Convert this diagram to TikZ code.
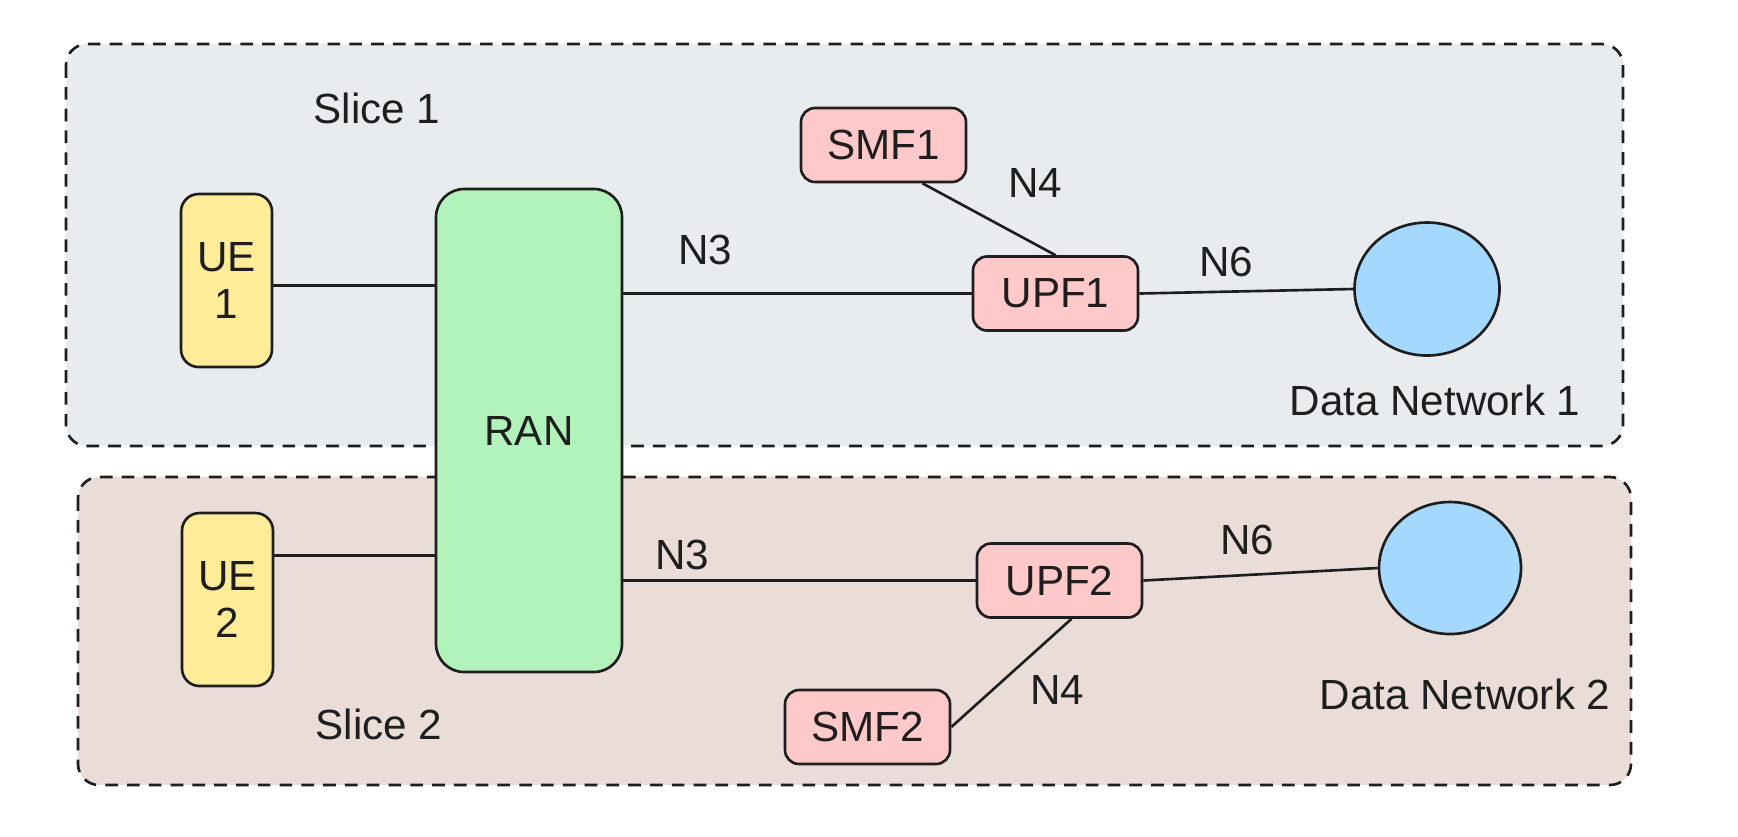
\documentclass[tikz,border=0pt]{standalone}
\usepackage{fontspec}
\setmainfont{Liberation Sans}
\usetikzlibrary{shapes.geometric}
\definecolor{ink}{HTML}{1E1E1E}
\definecolor{sliceonefill}{HTML}{E9ECEF}
\definecolor{slicetwofill}{HTML}{EADDD8}
\definecolor{uefill}{HTML}{FFEC99}
\definecolor{ranfill}{HTML}{B2F2BB}
\definecolor{nffill}{HTML}{FFC9C9}
\definecolor{dnfill}{HTML}{A5D8FF}
\begin{document}
\begin{tikzpicture}[
    every node/.style={font=\fontsize{12}{14}\selectfont, text=ink},
    slicebox/.style={draw=ink, fill=#1, line width=0.75pt, dash pattern=on 3.6pt off 2.6pt, rounded corners=6pt},
    uebox/.style={draw=ink, fill=uefill, line width=0.75pt, rounded corners=5pt, minimum width=0.91cm, minimum height=1.73cm, inner sep=0pt, align=center},
    ranbox/.style={draw=ink, fill=ranfill, line width=0.75pt, rounded corners=8pt, minimum width=1.86cm, minimum height=4.83cm, inner sep=0pt},
    nfbox/.style={draw=ink, fill=nffill, line width=0.75pt, rounded corners=4pt, minimum width=1.65cm, minimum height=0.74cm, inner sep=0pt},
    dnet/.style={draw=ink, fill=dnfill, line width=0.75pt, ellipse, inner sep=0pt},
    link/.style={draw=ink, line width=0.75pt}
  ]
   \useasboundingbox (0,0) rectangle (17.38,-8.36);
   \fill[white] (0,0) rectangle (17.38,-8.36);

   % the two slices
   \draw[slicebox=sliceonefill] (0.66,-0.44) rectangle (16.23,-4.46);
   \draw[slicebox=slicetwofill] (0.78,-4.77) rectangle (16.31,-7.85);
   \node (slice1) at (3.77,-1.08) {Slice 1};
   \node (slice2) at (3.79,-7.24) {Slice 2};

   \node[uebox] (ue1) at (2.265,-2.805) {UE\\[-0.5pt]1};
   \node[uebox] (ue2) at (2.275,-5.995) {UE\\[-0.5pt]2};
   \node[ranbox] (ran) at (5.29,-4.305) {RAN};

   \node[nfbox] (smf1) at (8.835,-1.45) {SMF1};
   \node[nfbox] (upf1) at (10.555,-2.935) {UPF1};
   \node[nfbox] (upf2) at (10.595,-5.805) {UPF2};
   \node[nfbox] (smf2) at (8.675,-7.27) {SMF2};

   \node[dnet, minimum width=1.45cm, minimum height=1.33cm] (dn1) at (14.27,-2.89) {};
   \node[dnet, minimum width=1.42cm, minimum height=1.32cm] (dn2) at (14.50,-5.68) {};
   \node (dn1label) at (14.35,-4.00) {Data Network 1};
   \node (dn2label) at (14.65,-6.94) {Data Network 2};

   \coordinate (ueoneout) at ([yshift=-0.5mm]ue1.east);
   \coordinate (uetwoout) at ([yshift=4.4mm]ue2.east);
   \draw[link] (ueoneout) -- (ueoneout -| ran.west);
   \draw[link] (uetwoout) -- (uetwoout -| ran.west);
   \draw[link] (upf1.west -| ran.east) -- (upf1.west);
   \draw[link] (upf2.west -| ran.east) -- (upf2.west);
   \draw[link] (upf1.east) -- (dn1.west);
   \draw[link] (upf2.east) -- (dn2.west);
   \draw[link] ([xshift=3.9mm]smf1.south) -- (upf1.north);
   \draw[link] ([xshift=1.2mm]upf2.south) -- (smf2.east);

   \node (n3a) at (7.05,-2.50) {N3};
   \node (n3b) at (6.82,-5.55) {N3};
   \node (n4a) at (10.35,-1.83) {N4};
   \node (n4b) at (10.57,-6.90) {N4};
   \node (n6a) at (12.26,-2.62) {N6};
   \node (n6b) at (12.47,-5.40) {N6};
\end{tikzpicture}
\end{document}
